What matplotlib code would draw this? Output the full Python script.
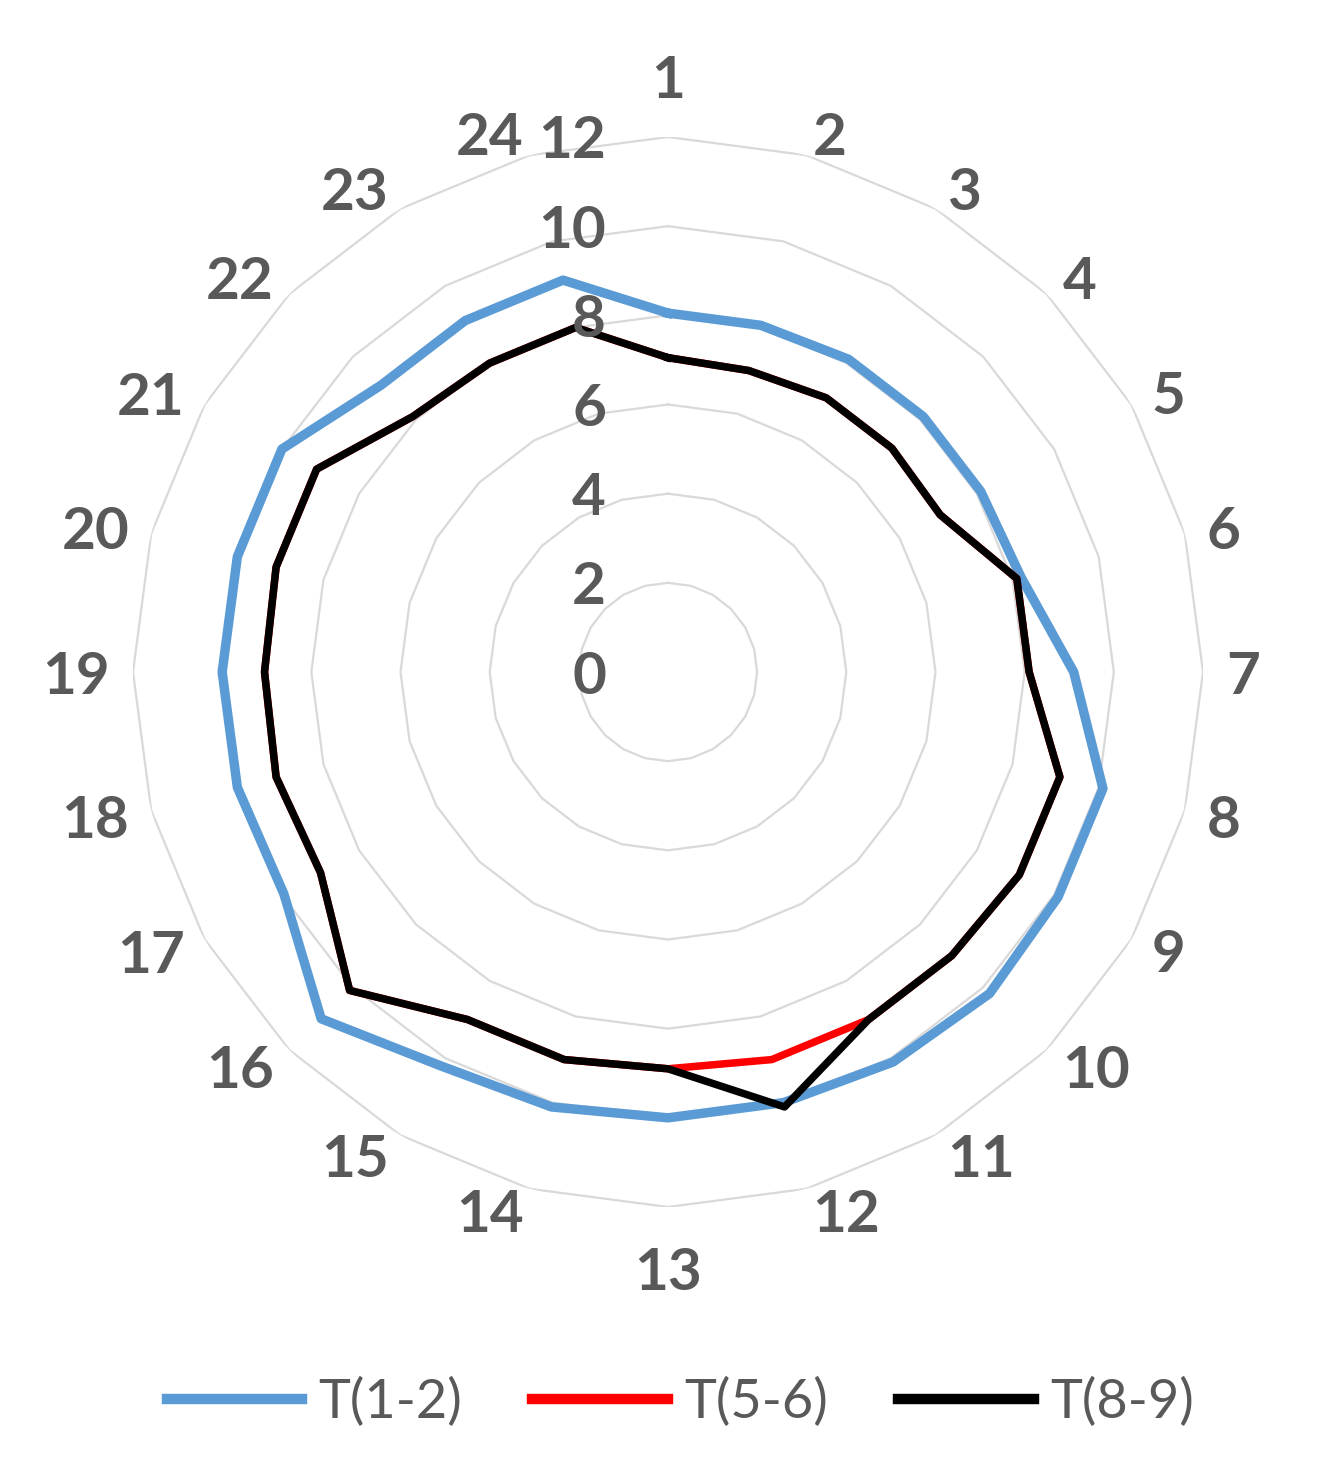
import numpy as np
import matplotlib
matplotlib.use("Agg")
import matplotlib.pyplot as plt
from matplotlib.transforms import ScaledTranslation

categories = [str(i) for i in range(1, 25)]
t12 = [8.05, 8.05, 8.1, 8.1, 8.1, 8.2, 9.1, 10.1, 10.1, 10.2, 10.1, 10.0,
       10.0, 10.1, 10.2, 11.0, 9.95, 10.0, 10.0, 10.0, 10.0, 9.1, 9.1, 9.1]
t56 = [7.05, 7.0, 7.1, 7.1, 7.05, 8.1, 8.1, 9.1, 9.1, 9.0, 9.0, 9.0,
       8.9, 9.0, 9.0, 10.1, 9.0, 9.1, 9.05, 9.1, 9.1, 8.1, 8.0, 8.0]
t89 = [7.05, 7.0, 7.1, 7.1, 7.05, 8.1, 8.1, 9.1, 9.1, 9.0, 9.0, 10.1,
       8.9, 9.0, 9.0, 10.1, 9.0, 9.1, 9.05, 9.1, 9.1, 8.1, 8.0, 8.0]
series_names = ["T(1-2)", "T(5-6)", "T(8-9)"]
r_ticks = [0, 2, 4, 6, 8, 10, 12]

GREY = "#595959"
W, H = 1318, 1458
fig = plt.figure(figsize=(W / 100, H / 100), dpi=100)
cx, cy, R = 668, 672, 535
ax = fig.add_axes([(cx - R) / W, (H - cy - R) / H, 2 * R / W, 2 * R / H],
                  projection="polar")
ax.set_theta_zero_location("N")
ax.set_theta_direction(-1)
ax.set_ylim(0, 12)
ax.grid(False)
ax.spines["polar"].set_visible(False)
ax.set_xticks([])
ax.set_yticks([])
ax.patch.set_alpha(0)

n = len(categories)
theta = np.linspace(0, 2 * np.pi, n, endpoint=False)
theta_c = np.append(theta, theta[0])

# polygon gridlines
for v in r_ticks[1:]:
    ax.plot(theta_c, [v] * (n + 1), color="#D9D9D9", lw=1.6, zorder=1)

def closed(a):
    return np.append(a, a[0])

ax.plot(theta_c, closed(t12), color="#5B9BD5", lw=6.8, zorder=3,
        solid_joinstyle="round", label=series_names[0])
ax.plot(theta_c, closed(t56), color="#FF0000", lw=5.4, zorder=4,
        solid_joinstyle="round", label=series_names[1])
ax.plot(theta_c, closed(t89), color="#000000", lw=5.4, zorder=5,
        solid_joinstyle="round", label=series_names[2])

tick_font = dict(family="Lato", weight="bold", size=42, color=GREY)

# radial tick labels
off = ScaledTranslation(-62 / 100, 0, fig.dpi_scale_trans)
for v in r_ticks:
    ax.text(0, v, str(v), ha="right", va="center_baseline",
            transform=ax.transData + off, zorder=6, **tick_font)

# category labels
for i, (t, lab) in enumerate(zip(theta, categories)):
    s = np.sin(t)
    if i in (0, n // 2):
        d, ha = 596, "center"
    else:
        d = 558
        ha = "left" if s > 0 else "right"
    ax.text(t, d * 12 / R, lab, ha=ha, va="center_baseline", zorder=6,
            **tick_font)

leg = fig.legend(loc="center", bbox_to_anchor=(0.516, (H - 1402) / H), ncol=3,
                 frameon=False, prop=dict(family="Lato", size=39),
                 handlelength=2.5, handletextpad=0.3, columnspacing=1.3)
for line in leg.get_lines():
    line.set_linewidth(7.5)
for txt in leg.get_texts():
    txt.set_color(GREY)

fig.savefig("out.png", dpi=100)
